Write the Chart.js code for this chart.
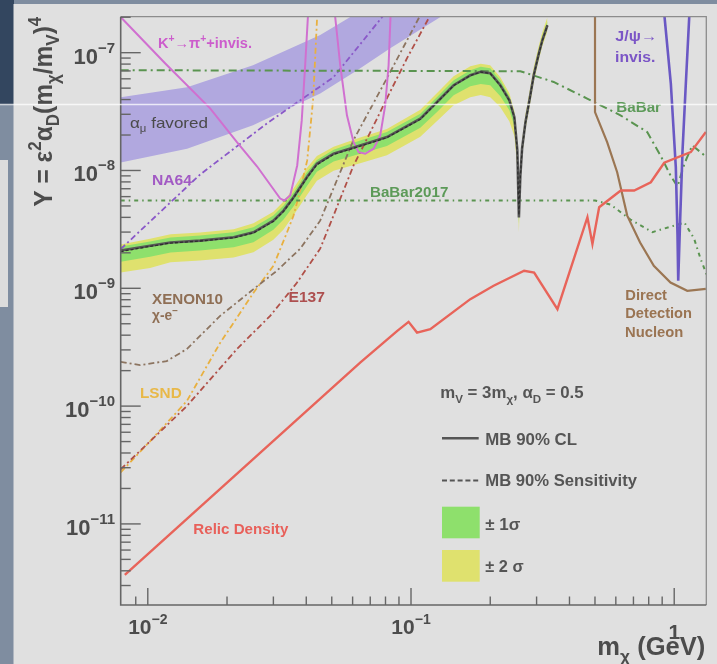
<!DOCTYPE html>
<html>
<head>
<meta charset="utf-8">
<script src="https://cdn.jsdelivr.net/npm/chart.js@4.4.1/dist/chart.umd.min.js"></script>
<style>
html, body { margin: 0; padding: 0; background: #7f8da0; }
#wrap { width: 717px; height: 664px; position: relative; }
</style>
</head>
<body>
<div id="wrap"><canvas id="dmChart"></canvas></div>
<script>
// axis ranges (m_chi in GeV, Y dimensionless)
const xMin = 0.00789, xMax = 1.324;
const yMin = 2.05e-12, yMax = 2.02e-7;

// MiniBooNE limit and expected bands, all on the same mass grid
const mbX = [0.00789, 0.0102, 0.0122, 0.0158, 0.0212, 0.0252, 0.0300, 0.0328, 0.0358, 0.0402, 0.0439, 0.0508, 0.0641, 0.0810, 0.1085, 0.1256, 0.1452, 0.168, 0.184, 0.200, 0.2185, 0.2365, 0.247, 0.2535, 0.257, 0.2603, 0.2643, 0.2721, 0.2818, 0.2926, 0.3048, 0.3156, 0.3298];
const mbCL = [2.09e-9, 2.30e-9, 2.45e-9, 2.54e-9, 2.71e-9, 2.99e-9, 3.75e-9, 4.57e-9, 5.93e-9, 8.77e-9, 1.14e-8, 1.39e-8, 1.63e-8, 1.92e-8, 2.75e-8, 3.81e-8, 5.29e-8, 6.43e-8, 6.87e-8, 6.69e-8, 5.29e-8, 3.94e-8, 2.83e-8, 1.48e-8, 4.0e-9, 9.07e-9, 1.54e-8, 2.56e-8, 3.94e-8, 6.43e-8, 9.52e-8, 1.28e-7, 1.71e-7];
const mbSens = [2.05e-9, 2.27e-9, 2.42e-9, 2.52e-9, 2.68e-9, 2.95e-9, 3.70e-9, 4.50e-9, 5.85e-9, 8.65e-9, 1.12e-8, 1.37e-8, 1.61e-8, 1.90e-8, 2.72e-8, 3.78e-8, 5.25e-8, 6.40e-8, 6.85e-8, 6.66e-8, 5.25e-8, 3.90e-8, 2.80e-8, 1.45e-8, 4.2e-9, 9.0e-9, 1.52e-8, 2.53e-8, 3.90e-8, 6.38e-8, 9.45e-8, 1.27e-7, 1.70e-7];
const sig2Hi = [2.35e-9, 2.64e-9, 2.87e-9, 2.97e-9, 3.17e-9, 3.57e-9, 4.47e-9, 5.45e-9, 7.07e-9, 1.05e-8, 1.33e-8, 1.59e-8, 1.91e-8, 2.25e-8, 3.28e-8, 4.55e-8, 6.31e-8, 7.67e-8, 8.04e-8, 7.83e-8, 6.19e-8, 4.52e-8, 3.18e-8, 1.63e-8, 4.24e-9, 1.02e-8, 1.80e-8, 2.99e-8, 4.61e-8, 7.52e-8, 1.11e-7, 1.50e-7, 2.00e-7];
const sig1Hi = [2.26e-9, 2.49e-9, 2.70e-9, 2.80e-9, 2.99e-9, 3.30e-9, 4.14e-9, 5.04e-9, 6.54e-9, 9.67e-9, 1.23e-8, 1.50e-8, 1.80e-8, 2.12e-8, 3.03e-8, 4.20e-8, 5.83e-8, 7.09e-8, 7.58e-8, 7.38e-8, 5.83e-8, 4.26e-8, 3.00e-8, 1.54e-8, 4.08e-9, 9.62e-9, 1.67e-8, 2.77e-8, 4.26e-8, 6.95e-8, 1.03e-7, 1.38e-7, 1.85e-7];
const sig1Lo = [1.68e-9, 1.85e-9, 2.01e-9, 2.09e-9, 2.23e-9, 2.46e-9, 3.14e-9, 3.83e-9, 4.97e-9, 7.35e-9, 9.75e-9, 1.19e-8, 1.39e-8, 1.61e-8, 2.31e-8, 3.13e-8, 4.35e-8, 5.18e-8, 5.43e-8, 5.29e-8, 4.26e-8, 3.24e-8, 2.37e-8, 1.27e-8, 3.56e-9, 8.39e-9, 1.42e-8, 2.37e-8, 3.64e-8, 5.94e-8, 8.80e-8, 1.21e-7, 1.61e-7];
const sig2Lo = [1.36e-9, 1.49e-9, 1.66e-9, 1.72e-9, 1.83e-9, 2.02e-9, 2.58e-9, 3.15e-9, 4.17e-9, 6.16e-9, 8.17e-9, 9.96e-9, 1.15e-8, 1.35e-8, 1.93e-8, 2.63e-8, 3.57e-8, 4.18e-8, 4.38e-8, 4.18e-8, 3.44e-8, 2.61e-8, 1.95e-8, 1.06e-8, 2.98e-9, 7.75e-9, 1.34e-8, 2.23e-8, 3.43e-8, 5.61e-8, 8.46e-8, 1.14e-7, 1.52e-7];

// relic density target
const relicX = [0.00818, 0.0641, 0.0887, 0.0979, 0.1054, 0.1184, 0.168, 0.206, 0.269, 0.2936, 0.360, 0.468, 0.489, 0.5186, 0.6266, 0.7045, 0.815, 0.9162, 1.156, 1.319];
const relicY = [3.70e-12, 2.34e-10, 4.35e-10, 5.19e-10, 4.21e-10, 4.50e-10, 8.09e-10, 1.05e-9, 1.41e-9, 1.36e-9, 6.65e-10, 4.01e-9, 2.38e-9, 4.88e-9, 6.76e-9, 6.76e-9, 7.95e-9, 1.163e-8, 1.432e-8, 2.12e-8];

// other experiments
const kaonX = [0.0079, 0.01163, 0.01725, 0.02185, 0.02603, 0.03184, 0.033, 0.03476, 0.03695, 0.03845, 0.03962, 0.0408];
const kaonY = [2.0e-7, 8.14e-8, 3.37e-8, 1.73e-8, 1.081e-8, 5.78e-9, 5.56e-9, 6.13e-9, 1.103e-8, 2.66e-8, 7.82e-8, 2.5e-7];
const kaon2X = [0.0510, 0.05384, 0.0571, 0.0605, 0.0632, 0.0670, 0.0721, 0.0764, 0.0798, 0.0822, 0.0839];
const kaon2Y = [2.5e-7, 7.82e-8, 2.94e-8, 1.741e-8, 1.431e-8, 1.387e-8, 1.53e-8, 1.986e-8, 3.57e-8, 7.82e-8, 2.5e-7];
const na64X = [0.00789, 0.01581, 0.02835, 0.05077, 0.0787, 0.09];
const na64Y = [2.15e-9, 9.25e-9, 2.51e-8, 6.19e-8, 2.08e-7, 3.2e-7];
const babarX = [0.00789, 0.2603, 0.3484, 0.467, 0.6249, 0.7894, 0.8868, 0.9681, 1.029, 1.094, 1.171, 1.319];
const babarY = [7.10e-8, 6.96e-8, 5.64e-8, 4.08e-8, 2.94e-8, 2.12e-8, 1.341e-8, 9.07e-9, 7.31e-9, 1.147e-8, 1.632e-8, 1.315e-8];
const babar17X = [0.00789, 0.5003, 0.5727, 0.6822, 0.827, 0.998, 1.094, 1.19, 1.259, 1.338];
const babar17Y = [5.56e-9, 5.56e-9, 5.14e-9, 3.83e-9, 3.0e-9, 3.40e-9, 3.61e-9, 2.64e-9, 1.78e-9, 1.25e-9];
const directX = [0.5001, 0.5001, 0.5561, 0.6071, 0.6629, 0.7419, 0.8365, 0.9681, 1.121, 1.319];
const directY = [3.0e-7, 3.13e-8, 1.741e-8, 9.67e-9, 4.14e-9, 2.45e-9, 1.55e-9, 1.12e-9, 9.52e-10, 9.9e-10];
const jpsiX = [0.912, 0.9708, 1.014, 1.029, 1.0357, 1.054, 1.0755, 1.107, 1.145];
const jpsiY = [2.4e-7, 5.47e-8, 1.067e-8, 2.89e-9, 1.158e-9, 4.0e-9, 1.48e-8, 5.47e-8, 2.4e-7];
const xenonX = [0.00789, 0.00935, 0.0118, 0.01407, 0.01883, 0.02521, 0.03094, 0.03794, 0.04518, 0.06037, 0.0810, 0.1085, 0.115];
const xenonY = [2.37e-10, 2.23e-10, 2.41e-10, 3.05e-10, 5.83e-10, 9.84e-10, 1.41e-9, 2.17e-9, 3.75e-9, 1.80e-8, 6.07e-8, 2.08e-7, 2.8e-7];
const lsndX = [0.00789, 0.0102, 0.01407, 0.01883, 0.02521, 0.03003, 0.03377, 0.03578, 0.03794, 0.04033, 0.04251, 0.04402];
const lsndY = [2.74e-11, 5.03e-11, 1.103e-10, 3.44e-10, 9.16e-10, 1.554e-9, 2.97e-9, 4.14e-9, 6.76e-9, 1.217e-8, 4.10e-8, 2.08e-7];
const e137X = [0.00789, 0.0105, 0.01407, 0.0218, 0.02917, 0.03685, 0.04518, 0.05077, 0.0605, 0.070, 0.081, 0.0966, 0.1184, 0.13];
const e137Y = [2.91e-11, 5.34e-11, 1.0e-10, 3.05e-10, 5.83e-10, 1.113e-9, 2.17e-9, 4.14e-9, 1.103e-8, 2.105e-8, 4.10e-8, 8.98e-8, 2.08e-7, 2.9e-7];
// (g-2)_mu favoured band
const amuX = [0.00789, 0.0141, 0.0251, 0.0452, 0.0625, 0.0834, 0.1327, 0.18];
const amuHi = [4.18e-8, 5.09e-8, 7.82e-8, 1.41e-7, 2.18e-7, 3.2e-7, 5.5e-7, 7.0e-7];
const amuLo = [1.17e-8, 1.53e-8, 2.415e-8, 4.50e-8, 7.10e-8, 1.092e-7, 2.08e-7, 3.1e-7];

const FONT = '"Liberation Sans", Arial, sans-serif';
const INK = '#4c4c4c';

function pts(xs, ys) {
  return xs.map((x, i) => ({ x: x, y: ys[i] }));
}

function curve(label, xs, ys, color, width, dash) {
  return {
    label: label,
    data: pts(xs, ys),
    borderColor: color,
    borderWidth: width,
    borderDash: dash || [],
    pointRadius: 0,
    fill: false,
    tension: 0
  };
}

function edge(label, xs, ys, fillColor) {
  return {
    label: label,
    data: pts(xs, ys),
    borderColor: 'transparent',
    borderWidth: 0,
    pointRadius: 0,
    backgroundColor: fillColor || 'transparent',
    fill: fillColor ? '+1' : false,
    tension: 0
  };
}

// text with sub/superscripts, optionally squeezed to a given width
function rich(ctx, parts, x, y, o) {
  const w = o.bold ? 'bold' : 'normal';
  const small = Math.round(o.size * 0.68);
  const segs = parts.map(p => {
    const s = p[1] === 'n' ? o.size : small;
    ctx.font = w + ' ' + s + 'px ' + FONT;
    return { t: p[0], k: p[1], s: s, w: ctx.measureText(p[0]).width };
  });
  const total = segs.reduce((a, p) => a + p.w, 0);
  const sx = o.width ? o.width / total : 1;
  let x0 = 0;
  if (o.align === 'right') x0 = -total;
  if (o.align === 'center') x0 = -total / 2;
  ctx.save();
  ctx.translate(x, y);
  if (o.rotate) ctx.rotate(o.rotate);
  ctx.scale(sx, 1);
  ctx.fillStyle = o.color;
  ctx.textAlign = 'left';
  ctx.textBaseline = 'alphabetic';
  let cx = x0;
  segs.forEach(p => {
    ctx.font = w + ' ' + p.s + 'px ' + FONT;
    let dy = 0;
    if (p.k === 'sub') dy = o.size * 0.28;
    if (p.k === 'sup') dy = -o.size * (o.supUp || 0.42);
    ctx.fillText(p.t, cx, dy);
    cx += p.w;
  });
  ctx.restore();
}

const notes = [
  { parts: [['K', 'n'], ['+', 'sup'], ['\u2192\u03c0', 'n'], ['+', 'sup'], ['+invis.', 'n']], x: 158, y: 48.3, width: 94, size: 14, bold: true, color: '#cc5ccc' },
  { parts: [['\u03b1', 'n'], ['\u03bc', 'sub'], [' favored', 'n']], x: 130, y: 128, width: 78, size: 15, bold: false, color: '#4a4a4a' },
  { parts: [['NA64', 'n']], x: 152, y: 185, width: 40, size: 15, bold: true, color: '#a25ac4' },
  { parts: [['XENON10', 'n']], x: 152, y: 304, width: 71, size: 15, bold: true, color: '#8f6f55' },
  { parts: [['\u03c7-e', 'n'], ['\u2212', 'sup']], x: 152, y: 320, width: 26, size: 14, bold: true, color: '#8f6f55' },
  { parts: [['E137', 'n']], x: 288.5, y: 301.5, width: 36.5, size: 15, bold: true, color: '#ad4f4f' },
  { parts: [['LSND', 'n']], x: 140, y: 398, width: 41.7, size: 15, bold: true, color: '#e8b848' },
  { parts: [['Relic Density', 'n']], x: 193.3, y: 534, width: 95, size: 14, bold: true, color: '#e8605a' },
  { parts: [['BaBar2017', 'n']], x: 370, y: 196.7, width: 78.3, size: 15, bold: true, color: '#5c9a58' },
  { parts: [['BaBar', 'n']], x: 616.3, y: 111.7, width: 44.7, size: 15, bold: true, color: '#5c9a58' },
  { parts: [['J/\u03c8\u2192', 'n']], x: 615.3, y: 40.7, width: 41.7, size: 15, bold: true, color: '#7b55c6' },
  { parts: [['invis.', 'n']], x: 615, y: 61.7, width: 40.3, size: 15, bold: true, color: '#7b55c6' },
  { parts: [['Direct', 'n']], x: 625.3, y: 300, width: 41.7, size: 14, bold: true, color: '#9a7452' },
  { parts: [['Detection', 'n']], x: 625.3, y: 318.3, width: 66.7, size: 14, bold: true, color: '#9a7452' },
  { parts: [['Nucleon', 'n']], x: 625, y: 336.7, width: 58.3, size: 14, bold: true, color: '#9a7452' },
  { parts: [['m', 'n'], ['V', 'sub'], [' = 3m', 'n'], ['\u03c7', 'sub'], [', \u03b1', 'n'], ['D', 'sub'], [' = 0.5', 'n']], x: 440.3, y: 398.3, width: 143.3, size: 16, bold: true, color: '#555' },
  { parts: [['MB 90% CL', 'n']], x: 485.3, y: 445, width: 91.7, size: 16, bold: true, color: '#555' },
  { parts: [['MB 90% Sensitivity', 'n']], x: 485.3, y: 485.7, width: 151.7, size: 16, bold: true, color: '#555' },
  { parts: [['\u00b1 1\u03c3', 'n']], x: 485.3, y: 530, width: 35, size: 16, bold: true, color: '#555' },
  { parts: [['\u00b1 2 \u03c3', 'n']], x: 485.3, y: 571.7, width: 38.3, size: 16, bold: true, color: '#555' }
];

const decor = {
  id: 'decor',
  beforeDraw(chart) {
    const c = chart.ctx;
    c.save();
    c.fillStyle = '#7f8da0';
    c.fillRect(0, 0, 717, 664);
    c.fillStyle = '#33465f';
    c.fillRect(0, 0, 14, 105);
    c.fillStyle = '#dcdcdc';
    c.fillRect(0, 160, 8, 147);
    c.fillStyle = '#e0e0e0';
    c.fillRect(13.5, 4, 717, 664);
    c.restore();
  },
  afterDatasetsDraw(chart) {
    const c = chart.ctx;
    const a = chart.chartArea;
    const xs = chart.scales.x, ys = chart.scales.y;
    c.save();
    // frame
    c.strokeStyle = '#8c8c8c';
    c.lineWidth = 1.3;
    c.beginPath();
    c.moveTo(a.left, a.top); c.lineTo(a.right, a.top); c.lineTo(a.right, a.bottom);
    c.stroke();
    c.strokeStyle = '#666';
    c.lineWidth = 1.6;
    c.beginPath();
    c.moveTo(a.left, a.top); c.lineTo(a.left, a.bottom); c.lineTo(a.right, a.bottom);
    c.stroke();
    // inward ticks
    c.lineWidth = 1.4;
    for (let e = -12; e <= -7; e++) {
      for (let m = 1; m <= 9; m++) {
        const v = m * Math.pow(10, e);
        if (v < yMin || v > yMax) continue;
        const py = ys.getPixelForValue(v);
        c.beginPath();
        c.moveTo(a.left, py); c.lineTo(a.left + (m === 1 ? 20 : 10), py);
        c.stroke();
      }
    }
    for (let e = -3; e <= 0; e++) {
      for (let m = 1; m <= 9; m++) {
        const v = m * Math.pow(10, e);
        if (v < xMin || v > xMax) continue;
        const px = xs.getPixelForValue(v);
        if (px - a.left < 3) continue;
        c.beginPath();
        c.moveTo(px, a.bottom); c.lineTo(px, a.bottom - (m === 1 ? 17 : 8.5));
        c.stroke();
      }
    }
    // tick labels
    for (let e = -11; e <= -7; e++) {
      const py = ys.getPixelForValue(Math.pow(10, e));
      rich(c, [['10', 'n'], ['\u2212' + (-e), 'sup']], 115, py + 11, { size: 22, bold: true, color: INK, align: 'right', supUp: 0.5 });
    }
    [-2, -1].forEach(e => {
      const px = xs.getPixelForValue(Math.pow(10, e));
      rich(c, [['10', 'n'], ['\u2212' + (-e), 'sup']], px, 634, { size: 21, bold: true, color: INK, align: 'center', supUp: 0.5 });
    });
    rich(c, [['1', 'n']], xs.getPixelForValue(1), 639, { size: 21, bold: true, color: INK, align: 'center' });
    // axis titles
    rich(c, [['m', 'n'], ['\u03c7', 'sub'], [' (GeV)', 'n']], 705.3, 655, { size: 25, bold: true, color: INK, align: 'right', width: 108 });
    rich(c, [['Y = \u03b5', 'n'], ['2', 'sup'], ['\u03b1', 'n'], ['D', 'sub'], ['(m', 'n'], ['\u03c7', 'sub'], ['/m', 'n'], ['V', 'sub'], [')', 'n'], ['4', 'sup']],
      51.5, 206.7, { size: 26, bold: true, color: INK, rotate: -Math.PI / 2, width: 190 });
    // annotations and legend
    notes.forEach(n => rich(c, n.parts, n.x, n.y, n));
    c.strokeStyle = '#555';
    c.lineWidth = 2.5;
    c.beginPath(); c.moveTo(442, 438.3); c.lineTo(478.7, 438.3); c.stroke();
    c.setLineDash([5, 2.8]);
    c.lineWidth = 2;
    c.beginPath(); c.moveTo(442, 480.5); c.lineTo(478.7, 480.5); c.stroke();
    c.setLineDash([]);
    c.fillStyle = '#8ee06c';
    c.fillRect(442, 506.7, 37.7, 31.6);
    c.fillStyle = '#dfe16e';
    c.fillRect(442, 550, 37.7, 31.7);
    c.restore();
  },
  afterDraw(chart) {
    const c = chart.ctx;
    c.save();
    c.strokeStyle = 'rgba(255,255,255,0.75)';
    c.lineWidth = 1.5;
    c.beginPath(); c.moveTo(0, 104.5); c.lineTo(717, 104.5); c.stroke();
    c.restore();
  }
};

const datasets = [
  curve('MB 90% Sensitivity', mbX, mbSens, '#2e2e2e', 1.3, [3, 2]),
  curve('MB 90% CL', mbX, mbCL, '#575757', 2.6),
  curve('Relic Density', relicX, relicY, '#e8645a', 2.4),
  curve('J/psi invis.', jpsiX, jpsiY, '#6a58c4', 2.6),
  curve('Direct Detection Nucleon', directX, directY, '#9b7653', 2.2),
  curve('K+ -> pi+ invis.', kaonX, kaonY, '#d070d0', 2),
  curve('K+ -> pi+ invis. (2)', kaon2X, kaon2Y, '#d070d0', 2),
  curve('BaBar', babarX, babarY, '#5a9450', 2, [8, 4, 2, 4]),
  curve('BaBar2017', babar17X, babar17Y, '#5a9450', 2, [4, 4, 1.5, 4]),
  curve('NA64', na64X, na64Y, '#8a58c8', 1.8, [6, 3, 2, 3]),
  curve('XENON10', xenonX, xenonY, '#8c7460', 1.8, [6, 3, 2, 3]),
  curve('E137', e137X, e137Y, '#b05048', 1.8, [6, 3, 2, 3]),
  curve('LSND', lsndX, lsndY, '#e8b040', 1.8, [6, 3, 2, 3]),
  edge('+1 sigma', mbX, sig1Hi, '#8ee06c'),
  edge('-1 sigma', mbX, sig1Lo),
  edge('+2 sigma', mbX, sig2Hi, '#dfe16e'),
  edge('-2 sigma', mbX, sig2Lo),
  edge('a_mu high', amuX, amuHi, '#b1a8df'),
  edge('a_mu low', amuX, amuLo)
];

const ctx = document.getElementById('dmChart').getContext('2d');
const dmChart = new Chart(ctx, {
  type: 'line',
  data: { datasets: datasets },
  options: {
    responsive: true,
    maintainAspectRatio: false,
    devicePixelRatio: 1,
    animation: false,
    layout: { padding: { left: 120.7, right: 10.7, top: 16.7, bottom: 59 } },
    scales: {
      x: { type: 'logarithmic', min: xMin, max: xMax, display: false },
      y: { type: 'logarithmic', min: yMin, max: yMax, display: false }
    },
    plugins: {
      legend: { display: false },
      tooltip: { enabled: false }
    }
  },
  plugins: [decor]
});
</script>
</body>
</html>
